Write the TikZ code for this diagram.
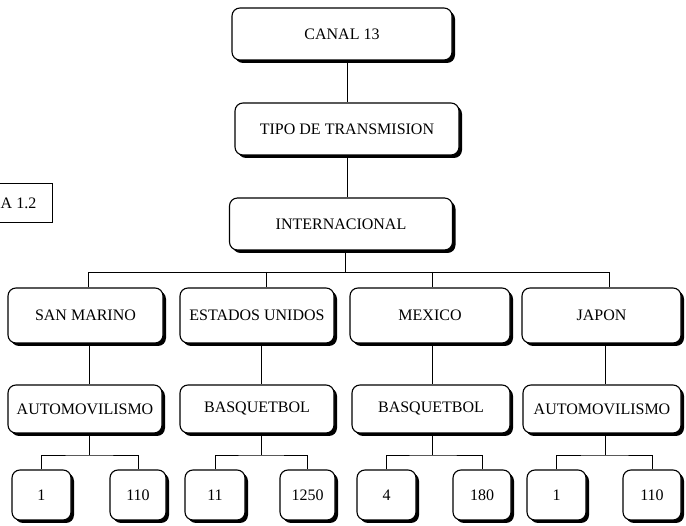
\documentclass[tikz,border=0pt]{standalone}
\usepackage{fontspec}
\setmainfont{Liberation Serif}
\usetikzlibrary{shadows}
\begin{document}
\begin{tikzpicture}[x=1pt,y=-1pt,
  box/.style={draw, line width=1.1pt, rounded corners=8pt, fill=white, inner sep=0pt,
    font=\fontsize{16}{19}\selectfont,
    drop shadow={shadow xshift=3pt, shadow yshift=-3pt, fill=black, opacity=1}},
  conn/.style={draw, line width=0.8pt}]
\useasboundingbox (0,0) rectangle (686,526);
% label box at left
\node[anchor=west, inner sep=0pt, font=\fontsize{16}{19}\selectfont] (lbl) at (0.5,203) {A 1.2};
\draw[line width=0.9pt] (-2,183) -- (52,183) -- (52,222) -- (-2,222);
% top chain
\node[box, minimum width=220pt, minimum height=52pt] (canal) at (342,34) {CANAL 13};
\node[box, minimum width=224pt, minimum height=52pt] (tipo) at (347,129) {TIPO DE TRANSMISION};
\node[box, minimum width=223pt, minimum height=52pt] (inter) at (341,224) {INTERNACIONAL};
% level 2
\node[box, minimum width=155pt, minimum height=55pt] (sm) at (85.5,315.5) {SAN MARINO};
\node[box, minimum width=154pt, minimum height=55pt] (eu) at (257,315.5) {ESTADOS UNIDOS};
\node[box, minimum width=160pt, minimum height=55pt] (mx) at (430,315.5) {MEXICO};
\node[box, minimum width=159pt, minimum height=55pt] (jp) at (601.5,315.5) {JAPON};
% level 3
\node[box, minimum width=154pt, minimum height=48pt] (a1) at (85,409) {AUTOMOVILISMO};
\node[box, minimum width=154pt, minimum height=48pt] (b1) at (257,409) {BASQUETBOL};
\node[box, minimum width=158pt, minimum height=48pt] (b2) at (431,409) {BASQUETBOL};
\node[box, minimum width=158pt, minimum height=48pt] (a2) at (602,409) {AUTOMOVILISMO};
% level 4
\node[box, minimum width=59pt, minimum height=50pt] (n1) at (41.5,495) {1};
\node[box, minimum width=56pt, minimum height=50pt] (n2) at (138,495) {110};
\node[box, minimum width=60pt, minimum height=50pt] (n3) at (215,495) {11};
\node[box, minimum width=55pt, minimum height=50pt] (n4) at (307.5,495) {1250};
\node[box, minimum width=59pt, minimum height=50pt] (n5) at (386.5,495) {4};
\node[box, minimum width=58pt, minimum height=50pt] (n6) at (482,495) {180};
\node[box, minimum width=59pt, minimum height=50pt] (n7) at (556.5,495) {1};
\node[box, minimum width=58pt, minimum height=50pt] (n8) at (652,495) {110};
% top connectors
\coordinate (c1) at (347,0);
\draw[conn] (canal.south -| c1) -- (tipo.north -| c1);
\draw[conn] (tipo.south -| c1) -- (inter.north -| c1);
% bus to level 2
\coordinate (b0) at (345,272);
\coordinate (d1) at (88,272);
\coordinate (d2) at (266,272);
\coordinate (d3) at (432,272);
\coordinate (d4) at (609,272);
\draw[conn] (inter.south -| b0) -- (b0);
\draw[conn] (sm.north -| d1) -- (d1) -- (d4) -- (jp.north -| d4);
\draw[conn] (d2) -- (eu.north -| d2);
\draw[conn] (d3) -- (mx.north -| d3);
% level 2 -> level 3
\coordinate (e1) at (89,0);
\coordinate (e2) at (261,0);
\coordinate (e3) at (432,0);
\coordinate (e4) at (605,0);
\draw[conn] (sm.south -| e1) -- (a1.north -| e1);
\draw[conn] (eu.south -| e2) -- (b1.north -| e2);
\draw[conn] (mx.south -| e3) -- (b2.north -| e3);
\draw[conn] (jp.south -| e4) -- (a2.north -| e4);
% level 3 -> level 4
\coordinate (s1) at (89,455);
\coordinate (s2) at (261,455);
\coordinate (s3) at (432,455);
\coordinate (s4) at (605,455);
\draw[conn] (a1.south -| s1) -- (s1);
\draw[conn] (n1.north) |- (s1) -| (n2.north);
\draw[conn] (b1.south -| s2) -- (s2);
\draw[conn] (n3.north) |- (s2) -| (n4.north);
\draw[conn] (b2.south -| s3) -- (s3);
\draw[conn] (n5.north) |- (s3) -| (n6.north);
\draw[conn] (a2.south -| s4) -- (s4);
\draw[conn] (n7.north) |- (s4) -| (n8.north);
\end{tikzpicture}
\end{document}
